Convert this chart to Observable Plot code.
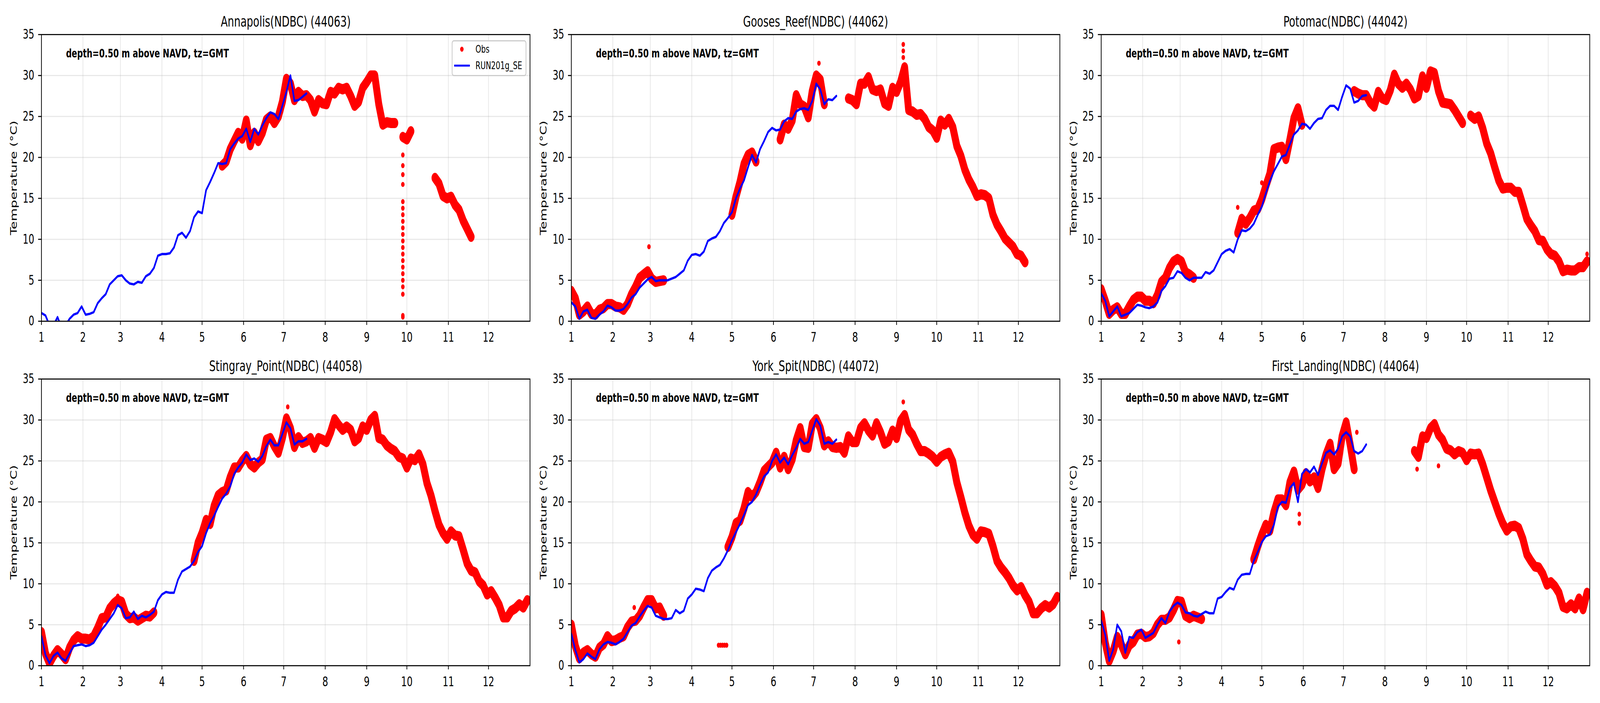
<!DOCTYPE html>
<html>
<head>
<meta charset="utf-8">
<script src="https://cdn.jsdelivr.net/npm/d3@7"></script>
<script src="https://cdn.jsdelivr.net/npm/@observablehq/plot@0.6"></script>
<style>
html, body { margin: 0; padding: 0; background: #ffffff; overflow: hidden; }
#frame { position: relative; overflow: hidden; }
#stage { position: absolute; left: 0; top: 0; width: 6000px; height: 1800px; transform-origin: 0 0; font-family: "DejaVu Sans", sans-serif; background: #ffffff; }
.panel { position: absolute; width: 2000px; height: 882px; }
.legend { position: absolute; box-sizing: border-box; border: 3px solid #cccccc; border-radius: 8px; background: rgba(255,255,255,0.8); }
</style>
</head>
<body>
<div id="frame"><div id="stage"></div></div>
<script>
const _ = null;
const STEP = 3; // days between samples (index i -> day i*STEP, day 0 = Jan 1)
const monthTicks = [0, 31, 59, 90, 120, 151, 181, 212, 243, 273, 304, 334];
const monthLabels = ["1","2","3","4","5","6","7","8","9","10","11","12"];
const tempTicks = [0, 5, 10, 15, 20, 25, 30, 35];
const stationTitles = ["Annapolis(NDBC) (44063)", "Gooses_Reef(NDBC) (44062)", "Potomac(NDBC) (44042)",
  "Stingray_Point(NDBC) (44058)", "York_Spit(NDBC) (44072)", "First_Landing(NDBC) (44064)"];
const depthNote = "depth=0.50 m above NAVD, tz=GMT";
const yLabel = "Temperature (°C)";
const legendLabels = ["Obs", "RUN201g_SE"];

// ---- Annapolis ----
const annapolisModel = [
  1.0,0.7,-0.5,-0.5,0.5,-0.8,-0.5,0.3,0.8,1.0,
  1.8,0.8,0.9,1.1,2.2,2.8,3.3,4.5,5.0,5.5,
  5.6,5.0,4.6,4.5,4.8,4.7,5.5,5.8,6.5,8.0,
  8.2,8.2,8.3,9.0,10.5,10.8,10.2,11.0,12.7,13.4,
  13.2,16.0,17.0,18.1,19.3,19.2,19.3,21.0,21.7,22.3,
  22.6,23.5,21.9,23.5,22.8,23.9,24.8,25.5,25.3,24.7,
  26.3,28.0,30.0,26.9,27.0,27.4,27.8];
const annapolisObs = [
  _,_,_,_,_,_,_,_,_,_,
  _,_,_,_,_,_,_,_,_,_,
  _,_,_,_,_,_,_,_,_,_,
  _,_,_,_,_,_,_,_,_,_,
  _,_,_,_,_,19.0,19.5,21.0,22.0,23.0,
  22.3,24.5,21.5,23.0,22.0,23.0,24.6,25.0,24.2,25.0,
  26.8,29.6,29.0,27.0,28.0,27.5,27.6,27.0,25.6,27.0,
  26.6,26.5,28.0,27.8,28.5,28.3,28.5,27.5,26.3,26.8,
  28.5,29.2,30.0,30.0,26.5,24.0,24.3,24.2,24.2,_,
  22.5,22.2,23.2,_,_,_,_,_,17.5,16.8,
  15.3,15.0,15.2,14.2,13.6,12.3,11.3,10.3];
const annapolisExtraDays = [270,270,270,270,270,270,270,270,270,270,270,270,270,270,270,270,270,270,270,270,270];
const annapolisExtraTemps = [0.7,0.5,3.3,4.2,5.0,5.8,6.6,7.4,8.2,9.0,9.8,10.6,11.4,12.2,13.0,13.8,14.6,16.7,17.9,19.0,20.3];

// ---- Gooses Reef ----
const goosesModel = [
  2.3,1.8,0.3,1.2,1.4,0.4,0.3,0.8,1.2,1.9,
  1.7,1.3,1.3,1.5,2.1,2.9,3.3,4.1,4.6,5.1,
  5.4,4.9,5.0,5.0,5.0,5.2,5.4,5.8,6.2,7.4,
  8.1,8.2,8.0,8.5,9.8,10.1,10.3,11.0,12.0,12.6,
  13.3,15.0,16.2,17.2,18.8,20.3,19.4,21.0,22.0,23.1,
  23.6,23.3,23.4,24.4,24.8,24.7,25.6,25.9,26.0,25.8,
  26.9,29.0,28.3,26.5,27.1,27.0,27.5];
const goosesObs = [
  3.7,2.8,0.8,1.2,1.8,0.9,0.8,1.4,1.6,2.1,
  2.1,1.8,1.7,1.4,2.1,3.3,4.2,5.3,5.7,6.1,
  5.2,4.8,4.9,5.0,_,_,_,_,_,_,
  _,_,_,_,_,_,_,_,_,_,
  13.0,15.2,17.0,19.2,20.3,20.6,19.5,_,_,_,
  _,_,22.2,24.0,23.5,24.5,27.6,26.5,26.2,24.9,
  28.1,30.0,29.5,26.5,_,_,_,_,_,27.2,
  27.0,26.5,29.0,29.0,29.8,28.3,28.1,28.3,26.6,26.3,
  28.5,28.0,29.2,31.0,25.8,25.6,25.2,25.3,24.7,23.7,
  23.3,22.4,24.5,24.0,24.7,23.7,21.4,20.2,18.5,17.3,
  16.4,15.3,15.5,15.4,15.0,13.0,11.8,11.0,10.1,9.6,
  9.1,8.2,8.0,7.2];
const goosesExtraDays = [58,185,248,248,248];
const goosesExtraTemps = [9.1,31.5,33.8,33.0,32.2];

// ---- Potomac ----
const potomacModel = [
  3.4,2.5,0.6,1.2,1.8,0.6,0.8,1.0,1.5,2.0,
  1.9,1.7,1.6,1.8,2.3,3.7,4.3,5.2,5.3,6.1,
  5.9,5.3,5.0,5.3,5.3,5.3,6.0,5.8,6.2,7.2,
  8.2,8.6,8.8,8.4,10.0,11.1,11.0,11.3,11.9,13.0,
  14.0,15.6,17.1,18.3,19.2,20.1,20.3,21.6,22.8,23.3,
  24.1,24.0,23.5,24.2,24.7,24.8,25.8,26.3,26.3,25.8,
  27.4,28.8,28.4,26.7,26.9,27.5,27.6];
const potomacObs = [
  3.9,2.5,0.9,1.4,1.7,0.9,0.9,1.8,2.6,3.0,
  3.0,2.5,2.5,2.2,3.2,4.8,5.3,6.5,7.3,7.6,
  7.3,6.0,5.7,5.3,_,_,_,_,_,_,
  _,_,_,_,10.8,12.5,11.9,12.6,13.5,13.7,
  14.9,16.5,18.0,21.0,21.2,21.3,19.8,22.2,24.8,26.0,
  24.0,_,_,_,_,_,_,_,_,_,
  _,_,_,28.1,27.8,27.6,27.6,26.7,26.2,28.0,
  27.2,27.0,28.2,30.1,29.0,28.5,29.0,28.3,27.2,27.5,
  29.9,28.5,30.5,30.3,28.1,26.7,26.6,26.5,25.8,25.0,
  24.2,_,25.1,24.7,25.0,23.6,21.7,20.5,18.8,17.2,
  16.2,16.3,16.3,15.8,15.8,14.2,12.5,11.7,11.0,9.9,
  9.8,8.8,8.2,8.0,7.3,6.1,6.3,6.2,6.2,6.6,
  6.6,7.3];
const potomacExtraDays = [102,120,363];
const potomacExtraTemps = [13.9,16.9,8.2];

// ---- Stingray Point ----
const stingrayModel = [
  3.6,1.3,0.3,1.2,1.6,0.9,0.6,1.5,2.4,2.5,
  2.6,2.4,2.5,2.8,3.6,4.4,5.0,5.7,6.4,7.4,
  7.0,5.8,5.9,6.6,5.7,6.1,5.9,6.2,6.6,8.0,
  8.7,9.0,8.9,8.9,10.5,11.5,11.8,12.1,12.8,13.9,
  14.6,16.2,17.4,18.3,19.4,20.4,21.0,21.9,23.4,24.2,
  24.8,25.8,25.1,25.3,24.9,25.6,26.8,27.6,26.9,26.9,
  28.3,29.7,29.0,27.0,27.4,27.4,27.7];
const stingrayObs = [
  4.1,1.5,0.3,1.2,1.9,1.4,0.8,2.2,3.1,3.6,
  3.3,3.3,3.2,3.6,4.6,5.8,5.9,7.0,7.6,8.0,
  7.8,6.3,5.8,5.9,5.5,5.8,6.1,6.0,6.5,_,
  _,_,_,_,_,_,_,_,12.8,15.0,
  16.2,17.8,17.3,19.5,20.8,21.2,21.4,23.0,24.2,24.2,
  25.0,25.6,24.6,24.2,24.8,25.2,27.6,27.8,26.8,26.0,
  27.8,30.2,29.0,26.7,27.9,27.2,27.4,27.8,26.6,27.8,
  27.6,27.3,28.5,30.1,29.4,28.8,29.2,28.8,27.4,27.8,
  29.2,28.8,30.0,30.5,27.8,27.6,26.9,26.5,26.2,25.5,
  25.3,24.2,25.3,25.1,25.8,24.6,22.3,20.8,18.9,17.2,
  16.2,15.5,16.4,15.9,15.8,14.2,12.5,11.6,11.4,10.3,
  9.8,8.7,9.1,8.3,7.4,5.9,5.9,6.7,7.0,7.5,
  7.1,8.0];
const stingrayExtraDays = [184,57];
const stingrayExtraTemps = [31.6,8.5];

// ---- York Spit ----
const yorkModel = [
  3.9,1.9,0.4,0.8,1.5,1.1,0.8,2.0,2.6,2.9,
  2.8,2.6,2.9,3.3,4.1,4.9,5.2,6.0,6.7,7.3,
  7.1,6.1,5.9,5.7,5.7,5.8,6.8,6.4,6.7,8.2,
  8.7,9.4,9.3,9.1,10.7,11.6,12.0,12.3,13.1,14.1,
  15.3,16.3,17.3,18.4,19.6,20.0,20.9,22.1,23.1,23.6,
  25.0,25.8,24.8,25.4,24.6,25.7,26.6,27.7,27.1,27.3,
  28.7,30.1,29.3,27.1,27.3,27.1,27.6];
const yorkObs = [
  5.0,2.4,0.9,1.6,1.9,1.4,1.1,2.2,2.6,3.6,
  3.0,3.1,3.4,3.6,4.7,5.4,5.5,6.1,7.1,8.0,
  8.0,7.0,7.1,6.1,_,_,_,_,_,_,
  _,_,_,_,_,_,_,_,_,14.5,
  15.7,17.4,17.7,19.2,21.2,20.6,21.2,22.4,23.8,24.3,
  24.8,26.0,24.2,25.5,24.0,25.2,27.5,29.0,26.7,26.6,
  29.5,30.1,29.0,26.9,27.4,26.7,26.6,26.7,26.0,28.0,
  27.3,27.3,29.0,29.6,28.7,28.1,29.6,28.5,27.1,27.4,
  28.7,27.8,29.9,30.6,28.8,28.2,27.1,26.2,26.2,25.9,
  25.5,24.9,25.5,25.8,26.0,24.9,22.4,20.6,18.7,17.1,
  16.0,15.5,16.4,16.3,16.1,14.6,12.8,12.0,11.4,10.7,
  9.8,9.2,9.6,8.6,7.8,6.4,6.4,7.0,7.4,7.1,
  7.5,8.4];
const yorkExtraDays = [110,111.5,113,114.5,116,47,248];
const yorkExtraTemps = [2.5,2.5,2.5,2.5,2.5,7.1,32.2];

// ---- First Landing ----
const firstLandingModel = [
  5.5,3.8,0.6,2.0,5.0,4.2,1.6,3.5,3.4,4.1,
  4.4,3.4,3.7,4.0,5.0,5.8,5.2,6.6,7.3,7.7,
  7.4,6.5,6.4,6.1,6.0,6.3,6.6,6.4,6.4,8.2,
  8.4,9.0,9.5,9.3,10.5,11.1,11.2,11.2,12.8,13.9,
  15.1,15.8,16.0,17.2,19.4,20.0,19.9,21.7,22.3,20.0,
  23.4,24.0,23.6,24.3,23.3,24.7,26.0,26.3,25.8,26.5,
  28.0,28.5,28.0,26.2,25.9,26.2,27.0];
const firstLandingObs = [
  6.2,2.8,0.6,1.8,3.5,2.6,1.4,2.5,2.9,3.8,
  3.9,3.5,3.6,4.0,5.0,5.6,5.6,5.9,6.8,7.9,
  7.8,6.1,5.8,6.1,5.9,5.7,_,_,_,_,
  _,_,_,_,_,_,_,_,13.0,14.6,
  16.0,17.2,16.5,18.7,20.3,20.3,19.6,22.4,23.7,21.5,
  22.1,23.5,22.5,23.0,21.7,24.0,25.8,27.1,24.0,24.7,
  28.0,29.7,27.0,24.0,_,_,_,_,_,_,
  _,_,_,_,_,_,_,_,26.2,25.5,
  28.0,27.8,29.0,29.5,28.2,27.6,26.5,26.3,25.8,26.2,
  26.0,25.1,25.9,25.8,25.9,24.6,23.0,21.4,20.0,18.6,
  17.4,16.5,17.0,17.1,16.8,15.5,13.6,12.8,12.1,12.0,
  11.2,9.9,10.2,9.7,8.9,7.2,7.0,7.5,7.0,8.2,
  6.9,8.9];
const firstLandingExtraDays = [58,148,148,252,236,191];
const firstLandingExtraTemps = [2.9,17.4,18.5,24.4,24.0,28.5];

const stations = [
  {title: stationTitles[0], model: annapolisModel, obs: annapolisObs, exDays: annapolisExtraDays, exTemps: annapolisExtraTemps},
  {title: stationTitles[1], model: goosesModel, obs: goosesObs, exDays: goosesExtraDays, exTemps: goosesExtraTemps},
  {title: stationTitles[2], model: potomacModel, obs: potomacObs, exDays: potomacExtraDays, exTemps: potomacExtraTemps},
  {title: stationTitles[3], model: stingrayModel, obs: stingrayObs, exDays: stingrayExtraDays, exTemps: stingrayExtraTemps},
  {title: stationTitles[4], model: yorkModel, obs: yorkObs, exDays: yorkExtraDays, exTemps: yorkExtraTemps},
  {title: stationTitles[5], model: firstLandingModel, obs: firstLandingObs, exDays: firstLandingExtraDays, exTemps: firstLandingExtraTemps}
];

function toSeries(values) {
  return values.map((v, i) => ({day: i * STEP, temp: v == null ? NaN : v}));
}

const stage = document.getElementById("stage");
const PANEL_W = 2000, PANEL_H = 882, COL_STEP = 1987;
const gridStyle = {stroke: "#b0b0b0", strokeOpacity: 0.3, strokeWidth: 2.7};

stations.forEach((st, k) => {
  const obs = toSeries(st.obs);
  const obsPts = obs.filter(d => !isNaN(d.temp));
  const model = toSeries(st.model);
  const extras = st.exDays.map((d, i) => ({day: d, temp: st.exTemps[i]}));
  const chart = Plot.plot({
    width: PANEL_W, height: PANEL_H,
    marginLeft: 155, marginRight: 13, marginTop: 88, marginBottom: 60,
    style: {fontFamily: "DejaVu Sans", color: "black", background: "transparent", overflow: "visible", maxWidth: "none"},
    x: {domain: [0, 365]},
    y: {domain: [0, 35]},
    marks: [
      Plot.gridX(monthTicks, gridStyle),
      Plot.gridY(tempTicks, gridStyle),
      Plot.line(obs, {x: "day", y: "temp", stroke: "red", strokeWidth: 26, strokeLinejoin: "round", strokeLinecap: "round", clip: true}),
      Plot.dot(obsPts, {x: "day", y: "temp", r: 7, fill: "red", stroke: null, clip: true}),
      Plot.dot(extras, {x: "day", y: "temp", r: 6.5, fill: "red", stroke: null, clip: true}),
      Plot.line(model, {x: "day", y: "temp", stroke: "blue", strokeWidth: 6, clip: true}),
      Plot.frame({stroke: "black", strokeWidth: 2.7}),
      Plot.axisX({ticks: monthTicks, tickFormat: d => monthLabels[monthTicks.indexOf(d)], tickSize: 10, tickPadding: 18, fontSize: 34, label: null, strokeWidth: 2.7}),
      Plot.axisY({ticks: tempTicks, tickSize: 12, tickPadding: 15, fontSize: 34, label: null, strokeWidth: 2.7}),
      Plot.text([st.title], {text: d => d, frameAnchor: "top", dy: -21, lineAnchor: "bottom", fontSize: 38}),
      Plot.text([depthNote], {text: d => d, frameAnchor: "top-left", dx: 92, dy: 58, lineAnchor: "bottom", textAnchor: "start", fontSize: 30, fontWeight: "bold"}),
      Plot.text([yLabel], {text: d => d, frameAnchor: "left", dx: -104, rotate: -90, textAnchor: "middle", lineAnchor: "middle", fontSize: 34})
    ]
  });
  const div = document.createElement("div");
  div.className = "panel";
  div.style.left = (k % 3) * COL_STEP + "px";
  div.style.top = Math.floor(k / 3) * PANEL_H + "px";
  div.appendChild(chart);
  stage.appendChild(div);
});

// legend (first panel only)
const leg = document.createElement("div");
leg.className = "legend";
leg.style.left = "1694px"; leg.style.top = "103px"; leg.style.width = "280px"; leg.style.height = "92px";
leg.innerHTML = `<svg width="274" height="86" style="display:block;font-family:'DejaVu Sans';font-size:27px">
  <circle cx="35" cy="20" r="6.5" fill="red"></circle>
  <line x1="6" x2="65" y1="62" y2="62" stroke="blue" stroke-width="5"></line>
  <text x="86" y="29">${legendLabels[0]}</text>
  <text x="86" y="71">${legendLabels[1]}</text>
</svg>`;
stage.appendChild(leg);

// the browser window may be narrower than 6000 px: map the 6000x1800 stage onto the whole viewport
function fit() {
  const vw = document.documentElement.clientWidth || window.innerWidth || 6000;
  const vh = document.documentElement.clientHeight || window.innerHeight || 1800;
  const sx = Math.min(1, vw / 6000);
  const sy = Math.min(1, vh / 1800);
  stage.style.transform = `scale(${sx}, ${sy})`;
  const frame = document.getElementById("frame");
  frame.style.width = (6000 * sx) + "px";
  frame.style.height = (1800 * sy) + "px";
}
fit();
window.addEventListener("resize", fit);
</script>
</body>
</html>
